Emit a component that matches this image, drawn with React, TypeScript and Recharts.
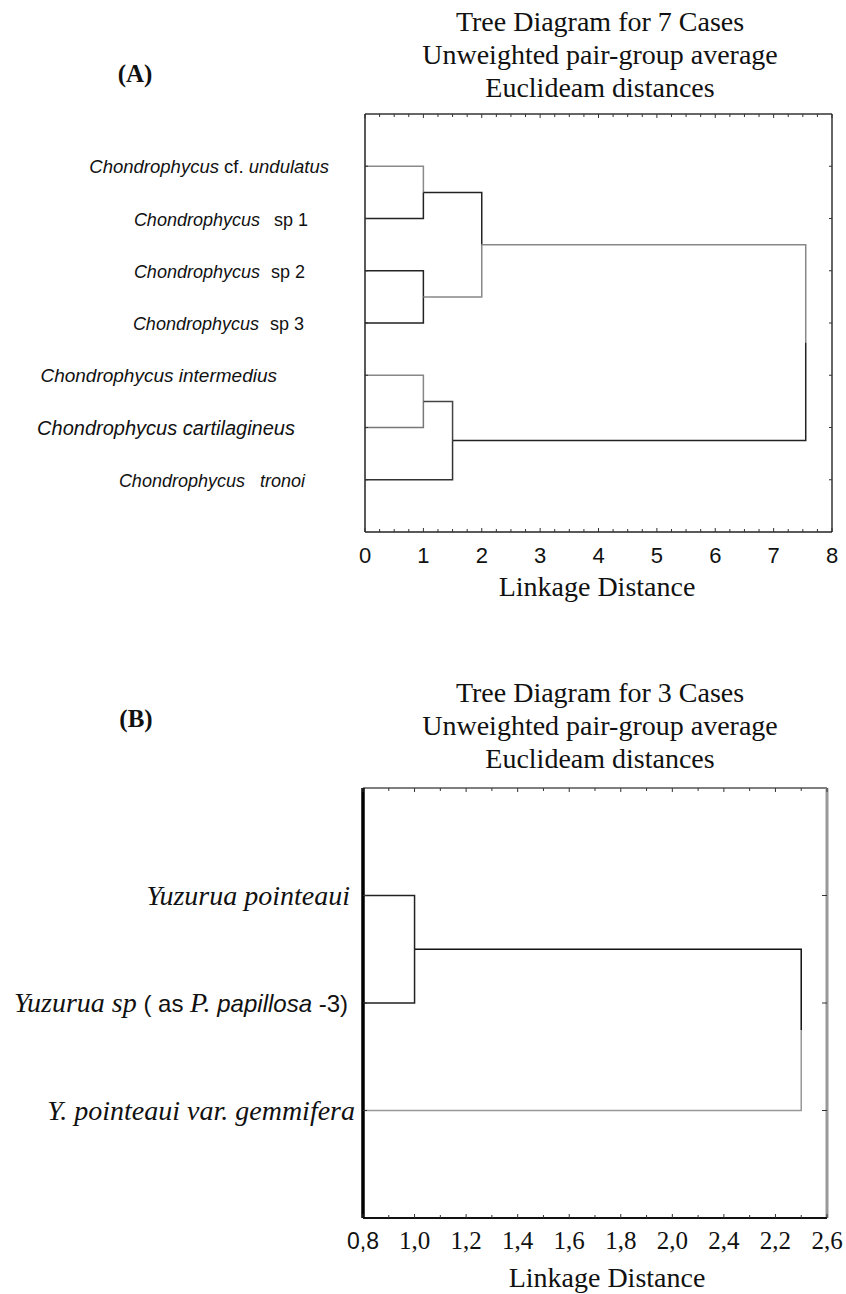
import { Line, LineChart, ReferenceLine, XAxis, YAxis } from 'recharts';

const SANS = "'Liberation Sans', Arial, sans-serif";
const SERIF = "'Liberation Serif', 'Times New Roman', serif";

// ---- panel A: 7 cases ----
// label parts: [text, kind]  kind: 'it' = italic taxon, 'rm' = roman
const leafLabelsA = [
  [['Chondrophycus', 'it'], [' cf. ', 'rm'], ['undulatus', 'it']],
  [['Chondrophycus', 'it'], [' sp 1', 'rm']],
  [['Chondrophycus', 'it'], [' sp 2', 'rm']],
  [['Chondrophycus', 'it'], [' sp 3', 'rm']],
  [['Chondrophycus intermedius', 'it']],
  [['Chondrophycus cartilagineus', 'it']],
  [['Chondrophycus', 'it'], [' tronoi', 'it']],
];
// [child, child, linkage distance]; ids >= 7 refer to earlier clusters
const mergesA = [
  [0, 1, 1.0],
  [2, 3, 1.0],
  [4, 5, 1.0],
  [9, 6, 1.5],
  [7, 8, 2.0],
  [11, 10, 7.55],
];
const distLabelsA = ['0', '1', '2', '3', '4', '5', '6', '7', '8'];

// ---- panel B: 3 cases ----
const leafLabelsB = [
  [['Yuzurua pointeaui', 'serif']],
  [['Yuzurua sp', 'serif'], [' ( as ', 'sans'], ['P.', 'serif'], [' papillosa', 'sansIt'], [' -3)', 'sans']],
  [['Y. pointeaui var. gemmifera', 'serif']],
];
const mergesB = [
  [0, 1, 1.0],
  [3, 2, 2.5],
];
const distLabelsB = ['0,8', '1,0', '1,2', '1,4', '1,6', '1,8', '2,0', '2,4', '2,2', '2,6'];

// styling (kept apart from the values)
const A = { width: 846, height: 620, top: 114, left: 365, right: 14, bottom: 88 };
const B = { width: 846, height: 654, top: 148, left: 363, right: 19, bottom: 76, offsetY: 640 };
const labelRightA = [329, 308, 305, 304, 277, 295, 305];
const labelSizeA = [18.5, 18, 18, 18, 19, 20, 18];
const labelGapA = [0, 9, 6, 6, 0, 0, 10];
const labelRightB = [350, 348, 355];
const segColorsA = ['#8a8a8a', '#222', '#222', '#222', '#888', '#777', '#444', '#333', '#222', '#888', '#888', '#222'];
const segColorsB = ['#222', '#222', '#111', '#999'];

type Pt = { x: number; y: number };

function buildSegments(leafCount: number, merges: number[][], base: number) {
  const pos = Array.from({ length: leafCount }, (_, i) => i + 1);
  const hgt = Array.from({ length: leafCount }, () => base);
  const segs: Pt[][] = [];
  merges.forEach(([a, b, h]) => {
    const mid = (pos[a] + pos[b]) / 2;
    segs.push([{ x: hgt[a], y: pos[a] }, { x: h, y: pos[a] }, { x: h, y: mid }]);
    segs.push([{ x: h, y: mid }, { x: h, y: pos[b] }, { x: hgt[b], y: pos[b] }]);
    pos.push(mid);
    hgt.push(h);
  });
  return segs;
}

const segsA = buildSegments(leafLabelsA.length, mergesA, 0);
const segsB = buildSegments(leafLabelsB.length, mergesB, 0.8);

const quarterTicks = Array.from({ length: 33 }, (_, i) => i / 4);
const tenthTicks = Array.from({ length: 19 }, (_, i) => (8 + i) / 10);

function LeafTickA(props: any) {
  const { y, payload } = props;
  const i = Math.round(payload.value) - 1;
  const plotRight = A.width - A.right;
  return (
    <g>
      <line x1={A.left} x2={A.left + 3} y1={y} y2={y} stroke="#333" />
      <line x1={plotRight - 3} x2={plotRight} y1={y} y2={y} stroke="#333" />
      <text x={labelRightA[i]} y={y + 7} textAnchor="end" fontFamily={SANS} fontSize={labelSizeA[i]} fill="#111">
        {leafLabelsA[i].map(([t, k], j) => (
          <tspan key={j} fontStyle={k === 'it' ? 'italic' : 'normal'} dx={j === 1 ? labelGapA[i] : 0}>
            {t}
          </tspan>
        ))}
      </text>
    </g>
  );
}

function DistTickA(props: any) {
  const { x, payload } = props;
  const y = A.height - A.bottom;
  const v = payload.value;
  const major = Math.abs(v - Math.round(v)) < 1e-6;
  const len = major ? 4 : 3;
  return (
    <g>
      <line x1={x} x2={x} y1={y} y2={y - len} stroke="#333" />
      <line x1={x} x2={x} y1={A.top} y2={A.top + len} stroke="#333" />
      {major && (
        <text x={x} y={y + 31} textAnchor="middle" fontFamily={SANS} fontSize={22} fill="#111">
          {distLabelsA[Math.round(v)]}
        </text>
      )}
    </g>
  );
}

function partStyle(k: string) {
  if (k === 'serif') return { fontFamily: SERIF, fontStyle: 'italic', fontSize: 28 };
  if (k === 'sansIt') return { fontFamily: SANS, fontStyle: 'italic', fontSize: 24 };
  return { fontFamily: SANS, fontStyle: 'normal', fontSize: 24 };
}

function LeafTickB(props: any) {
  const { y, payload } = props;
  const i = Math.round(payload.value) - 1;
  const plotRight = B.width - B.right;
  return (
    <g>
      <line x1={B.left} x2={B.left + 4} y1={y} y2={y} stroke="#333" />
      <line x1={plotRight - 5} x2={plotRight} y1={y} y2={y} stroke="#333" />
      <text x={labelRightB[i]} y={y + 9} textAnchor="end" fill="#111">
        {leafLabelsB[i].map(([t, k], j) => {
          const s = partStyle(k);
          return (
            <tspan key={j} fontFamily={s.fontFamily} fontStyle={s.fontStyle} fontSize={s.fontSize}>
              {t}
            </tspan>
          );
        })}
      </text>
    </g>
  );
}

function DistTickB(props: any) {
  const { x, payload } = props;
  const y = B.height - B.bottom;
  const idx = Math.round(payload.value * 10) - 8;
  const major = idx % 2 === 0;
  const len = major ? 4 : 3;
  const lbl = major ? distLabelsB[idx / 2] : null;
  return (
    <g>
      <line x1={x} x2={x} y1={y} y2={y - len} stroke="#333" />
      <line x1={x} x2={x} y1={B.top} y2={B.top + len} stroke="#333" />
      {lbl && (
        <text
          x={x}
          y={y + 31}
          textAnchor="middle"
          fontFamily={idx === 0 ? SANS : SERIF}
          fontSize={idx === 0 ? 23 : 25}
          fill="#111"
        >
          {lbl}
        </text>
      )}
    </g>
  );
}

function TitleBlock({ y, cases }: { y: number; cases: number }) {
  const style = { fontFamily: SERIF, fontSize: 28, fill: '#111' };
  return (
    <g>
      <text x={600} y={y} textAnchor="middle" {...style}>{`Tree Diagram for ${cases} Cases`}</text>
      <text x={600} y={y + 33} textAnchor="middle" {...style}>Unweighted pair-group average</text>
      <text x={600} y={y + 66} textAnchor="middle" {...style}>Euclideam distances</text>
    </g>
  );
}

export default function App() {
  return (
    <div style={{ position: 'absolute', left: 0, top: 0, width: 846, height: 1294, background: '#fff' }}>
      <div style={{ position: 'absolute', left: 0, top: 0 }}>
        <LineChart
          width={A.width}
          height={A.height}
          margin={{ top: A.top, left: A.left - 1, right: A.right, bottom: A.bottom - 1 }}
        >
          <XAxis
            type="number"
            dataKey="x"
            domain={[0, 8]}
            ticks={quarterTicks}
            interval={0}
            height={1}
            tickSize={0}
            tickMargin={0}
            tickLine={false}
            axisLine={{ stroke: '#222', strokeWidth: 1.5 }}
            tick={<DistTickA />}
          />
          <YAxis
            type="number"
            domain={[0, 8]}
            reversed
            ticks={[1, 2, 3, 4, 5, 6, 7]}
            interval={0}
            width={1}
            tickSize={0}
            tickMargin={0}
            tickLine={false}
            axisLine={{ stroke: '#222', strokeWidth: 1.5 }}
            tick={<LeafTickA />}
          />
          <ReferenceLine y={0} stroke="#333" strokeWidth={1.5} />
          <ReferenceLine x={8} stroke="#333" strokeWidth={1.5} />
          {segsA.map((d, i) => (
            <Line
              key={i}
              data={d}
              dataKey="y"
              type="linear"
              stroke={segColorsA[i]}
              strokeWidth={1.5}
              dot={false}
              activeDot={false}
              isAnimationActive={false}
            />
          ))}
        </LineChart>
      </div>

      <div style={{ position: 'absolute', left: 0, top: B.offsetY }}>
        <LineChart
          width={B.width}
          height={B.height}
          margin={{ top: B.top, left: B.left - 1, right: B.right, bottom: B.bottom - 1 }}
        >
          <XAxis
            type="number"
            dataKey="x"
            domain={[0.8, 2.6]}
            ticks={tenthTicks}
            interval={0}
            height={1}
            tickSize={0}
            tickMargin={0}
            tickLine={false}
            axisLine={{ stroke: '#111', strokeWidth: 2 }}
            tick={<DistTickB />}
          />
          <YAxis
            type="number"
            domain={[0, 4]}
            reversed
            ticks={[1, 2, 3]}
            interval={0}
            width={1}
            tickSize={0}
            tickMargin={0}
            tickLine={false}
            axisLine={{ stroke: '#000', strokeWidth: 3.5 }}
            tick={<LeafTickB />}
          />
          <ReferenceLine y={0} stroke="#555" strokeWidth={1.5} />
          <ReferenceLine x={2.6} stroke="#999" strokeWidth={3} />
          {segsB.map((d, i) => (
            <Line
              key={i}
              data={d}
              dataKey="y"
              type="linear"
              stroke={segColorsB[i]}
              strokeWidth={1.5}
              dot={false}
              activeDot={false}
              isAnimationActive={false}
            />
          ))}
        </LineChart>
      </div>

      <svg
        width={846}
        height={1294}
        style={{ position: 'absolute', left: 0, top: 0, pointerEvents: 'none' }}
      >
        <TitleBlock y={31} cases={7} />
        <text x={135} y={82} textAnchor="middle" fontFamily={SERIF} fontWeight="bold" fontSize={25} fill="#111">
          (A)
        </text>
        <text x={597} y={596} textAnchor="middle" fontFamily={SERIF} fontSize={28} fill="#111">
          Linkage Distance
        </text>

        <TitleBlock y={702} cases={3} />
        <text x={136} y={727} textAnchor="middle" fontFamily={SERIF} fontWeight="bold" fontSize={25} fill="#111">
          (B)
        </text>
        <text x={607} y={1287} textAnchor="middle" fontFamily={SERIF} fontSize={28} fill="#111">
          Linkage Distance
        </text>
      </svg>
    </div>
  );
}
